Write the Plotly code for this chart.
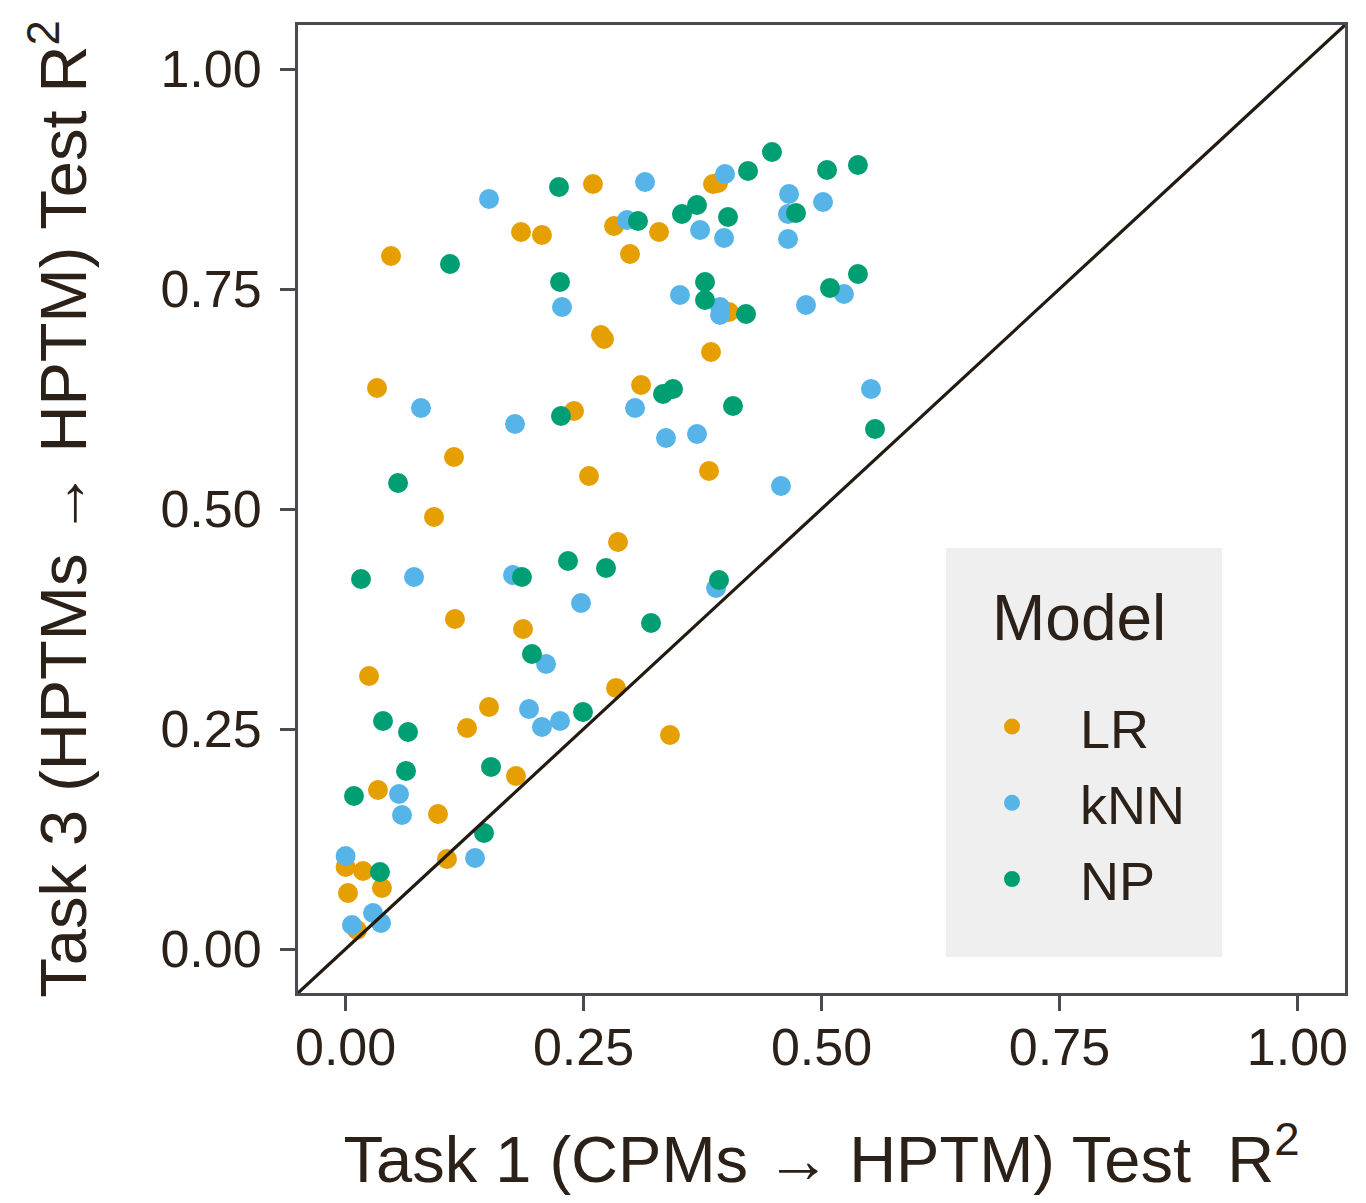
import plotly.graph_objects as go

# ---- data ----
lr_x = [0.0477, 0.0330, 0.1139, 0.0929, 0.1149, 0.0246, 0.1276, 0.1507, 0.0340, 0.0971,
        0.1065, 0.0000, 0.0183, 0.0025, 0.0382, 0.0120, 0.1790, 0.1864, 0.1843, 0.2063,
        0.2599, 0.2820, 0.2988, 0.3293, 0.2683, 0.2715, 0.2400, 0.2557, 0.2862, 0.2841,
        0.3104, 0.3839, 0.3818, 0.3408, 0.3860, 0.3913, 0.4028]
lr_y = [0.7875, 0.6375, 0.5591, 0.4909, 0.3750, 0.3102, 0.2511, 0.2750, 0.1807, 0.1534,
        0.1023, 0.0932, 0.0886, 0.0636, 0.0693, 0.0216, 0.1966, 0.3636, 0.8148, 0.8114,
        0.8693, 0.8216, 0.7898, 0.8148, 0.6977, 0.6932, 0.6114, 0.5375, 0.4625, 0.2966,
        0.6409, 0.6784, 0.5432, 0.2432, 0.8693, 0.8705, 0.7239]

knn_x = [0.1507, 0.2274, 0.0792, 0.1780, 0.0719, 0.1759, 0.2473, 0.2106, 0.1927, 0.2063,
         0.2253, 0.0561, 0.0593, 0.0000, 0.1360, 0.0067, 0.0288, 0.0372, 0.2956, 0.3146,
         0.3041, 0.3366, 0.3513, 0.3724, 0.3692, 0.3986, 0.3976, 0.3934, 0.3934, 0.3892,
         0.4659, 0.4648, 0.4648, 0.5016, 0.4837, 0.5236, 0.4574, 0.5520]
knn_y = [0.8523, 0.7295, 0.6148, 0.5966, 0.4227, 0.4250, 0.3932, 0.3239, 0.2727, 0.2523,
         0.2591, 0.1761, 0.1523, 0.1057, 0.1034, 0.0273, 0.0409, 0.0295, 0.8284, 0.8716,
         0.6148, 0.5807, 0.7432, 0.8170, 0.5852, 0.8807, 0.8080, 0.7295, 0.7205, 0.4102,
         0.8580, 0.8352, 0.8068, 0.8489, 0.7318, 0.7443, 0.5261, 0.6364]

np_x = [0.2242, 0.1097, 0.2253, 0.2263, 0.0551, 0.0162, 0.1853, 0.2337, 0.2736, 0.3209,
        0.1958, 0.0393, 0.0656, 0.2494, 0.0635, 0.1528, 0.0088, 0.1454, 0.0361, 0.3072,
        0.3534, 0.3692, 0.4018, 0.4732, 0.4480, 0.4228, 0.5058, 0.5383, 0.3776, 0.3776,
        0.4207, 0.3335, 0.3440, 0.4070, 0.5089, 0.5383, 0.5562, 0.3923]
np_y = [0.8659, 0.7784, 0.7580, 0.6057, 0.5295, 0.4205, 0.4227, 0.4409, 0.4330, 0.3705,
        0.3352, 0.2591, 0.2466, 0.2693, 0.2023, 0.2068, 0.1739, 0.1318, 0.0875, 0.8273,
        0.8352, 0.8455, 0.8318, 0.8364, 0.9057, 0.8841, 0.8852, 0.8909, 0.7580, 0.7375,
        0.7216, 0.6307, 0.6364, 0.6170, 0.7511, 0.7670, 0.5909, 0.4193]

model_names = ["LR", "kNN", "NP"]
model_colors = ["#E69F00", "#56B4E9", "#009E73"]
tick_vals = [0.0, 0.25, 0.5, 0.75, 1.0]
tick_text = ["0.00", "0.25", "0.50", "0.75", "1.00"]
axis_range = [-0.05, 1.05]

TEXT = "#2B2118"
FRAME = "#484C50"
FONT = "Liberation Sans, Arial, Helvetica, sans-serif"

W, H = 1366, 1203
ML, MR, MT, MB = 298, 21, 25, 210
PW, PH = W - ML - MR, H - MT - MB

def px_x(p):
    return (p - ML) / PW

def px_y(p):
    return (H - MB - p) / PH

fig = go.Figure()
for name, color, xs, ys in zip(model_names, model_colors,
                               [lr_x, knn_x, np_x], [lr_y, knn_y, np_y]):
    fig.add_trace(go.Scatter(
        x=xs, y=ys, mode="markers", name=name, legendgroup=name,
        marker=dict(color=color, size=20, line=dict(width=0)),
    ))

# identity line
fig.add_shape(type="line", xref="x", yref="y",
              x0=axis_range[0], y0=axis_range[0], x1=axis_range[1], y1=axis_range[1],
              line=dict(color="#231A12", width=3.2), layer="above")

# legend background box
fig.add_shape(type="rect", xref="paper", yref="paper",
              x0=px_x(946), x1=px_x(1222), y0=px_y(957), y1=px_y(548),
              fillcolor="#EFEFEF", line=dict(width=0), layer="above")

fig.add_annotation(text="Model", xref="paper", yref="paper",
                   x=px_x(990), y=px_y(618), xanchor="left", yanchor="middle",
                   showarrow=False, font=dict(family=FONT, size=64, color=TEXT))

axis_common = dict(
    range=axis_range, tickvals=tick_vals, ticktext=tick_text,
    showgrid=False, zeroline=False,
    showline=True, linecolor=FRAME, linewidth=3, mirror=True,
    ticks="outside", ticklen=15, tickwidth=3, tickcolor=FRAME,
    tickfont=dict(family=FONT, size=52, color=TEXT),
)

fig.update_xaxes(**axis_common,
                 title=dict(text="Task 1 (CPMs \u2192 HPTM) Test\u00a0\u00a0R<sup>2</sup>",
                            font=dict(family=FONT, size=65, color=TEXT), standoff=62),
                 ticklabelstandoff=-8)
fig.update_yaxes(**axis_common,
                 title=dict(text="Task 3 (HPTMs \u2192 HPTM) Test R<sup>2</sup>",
                            font=dict(family=FONT, size=65, color=TEXT), standoff=53),
                 ticklabelstandoff=8)

fig.update_layout(
    width=W, height=H,
    margin=dict(l=ML, r=MR, t=MT, b=MB, autoexpand=False),
    paper_bgcolor="white", plot_bgcolor="white",
    font=dict(family=FONT, color=TEXT),
    showlegend=True,
    legend=dict(
        x=px_x(944), y=px_y(685), xanchor="left", yanchor="top",
        bgcolor="rgba(0,0,0,0)", borderwidth=0,
        font=dict(family=FONT, size=54, color=TEXT),
        itemwidth=126, tracegroupgap=3, traceorder="grouped",
    ),
)

fig.write_html("out.html")
